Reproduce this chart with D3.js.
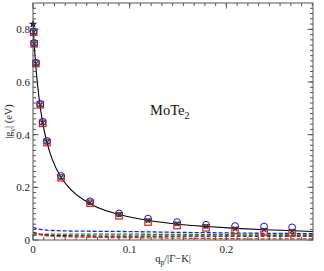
<!DOCTYPE html>
<html>
<head>
<meta charset="utf-8">
<script src="https://cdn.jsdelivr.net/npm/d3@7"></script>
<style>
  body { margin: 0; background: #fff; }
  svg { display: block; font-family: "Liberation Serif", "DejaVu Serif", serif; }
</style>
</head>
<body>
<div id="chart"></div>
<script>
// Solid black fit curve
const curveQ = [0, 0.001, 0.002, 0.003, 0.005, 0.0075, 0.01, 0.0145, 0.02, 0.029, 0.04, 0.059, 0.075, 0.089, 0.12, 0.15, 0.18, 0.21, 0.24, 0.27, 0.29];
const curveG = [0.82, 0.757, 0.705, 0.656, 0.58, 0.505, 0.446, 0.37, 0.305, 0.238, 0.188, 0.138, 0.112, 0.097, 0.074, 0.060, 0.051, 0.044, 0.039, 0.035, 0.032];

// Dashed background lines
const dashQ = [0, 0.005, 0.01, 0.02, 0.04, 0.07, 0.1, 0.15, 0.2, 0.25, 0.29];
const dashBlue  = [0.048, 0.042, 0.039, 0.036, 0.034, 0.033, 0.032, 0.029, 0.027, 0.025, 0.024];
const dashGreen = [0.017, 0.020, 0.021, 0.022, 0.022, 0.022, 0.022, 0.021, 0.020, 0.019, 0.019];
const dashBlack = [0.030, 0.024, 0.020, 0.017, 0.016, 0.015, 0.015, 0.015, 0.015, 0.015, 0.015];
const dashRed   = [0.027, 0.022, 0.018, 0.015, 0.012, 0.010, 0.009, 0.007, 0.005, 0.004, 0.004];

// Markers
const markQ = [0.0007, 0.0012, 0.003, 0.0075, 0.010, 0.0145, 0.029, 0.059, 0.089, 0.119, 0.149, 0.179, 0.209, 0.239, 0.268];
const redSq    = [0.789, 0.745, 0.670, 0.513, 0.443, 0.370, 0.236, 0.140, 0.092, 0.068, 0.055, 0.046, 0.036, 0.031, 0.027];
const greenX   = [0.789, 0.745, 0.670, 0.513, 0.445, 0.372, 0.238, 0.142, 0.096, 0.074, 0.061, 0.052, 0.042, 0.038, 0.034];
const blueCirc = [0.792, 0.748, 0.673, 0.517, 0.449, 0.376, 0.243, 0.147, 0.101, 0.081, 0.068, 0.058, 0.053, 0.051, 0.048];
const starQ = [0];
const starG = [0.82];

const xTicks = [0, 0.1, 0.2];
const yTicks = [0, 0.2, 0.4, 0.6, 0.8];

const W = 324, H = 271;
const margin = {top: 3, right: 11, bottom: 31, left: 33};
const width = W - margin.left - margin.right;
const height = H - margin.top - margin.bottom;

const svg = d3.select("#chart").append("svg")
    .attr("width", W).attr("height", H);
const g = svg.append("g").attr("transform", `translate(${margin.left},${margin.top})`);

const x = d3.scaleLinear().domain([0, 0.2896]).range([0, width]);
const y = d3.scaleLinear().domain([0, 0.9]).range([height, 0]);

// minor tick values
const xMinor = d3.range(0, 0.29, 0.1 / 9).filter(v => v > 0.0001 && v < 0.2896);
const yMinor = d3.range(0, 0.9, 0.02).filter(v => v > 0.0001 && v < 0.8999);

svg.append("defs").append("clipPath").attr("id", "clip").append("rect")
    .attr("width", width).attr("height", height);

// Dashed lines
const line = d3.line().x(d => x(d[0])).y(d => y(d[1])).curve(d3.curveMonotoneX);
const dashed = [
  {vals: dashBlue, color: "#1a1aff"},
  {vals: dashGreen, color: "#109010"},
  {vals: dashBlack, color: "#111"},
  {vals: dashRed, color: "#ff1a1a"}
];
const plot = g.append("g").attr("clip-path", "url(#clip)");
dashed.forEach(s => {
  plot.append("path")
    .datum(dashQ.map((q, i) => [q, s.vals[i]]))
    .attr("d", line)
    .attr("fill", "none")
    .attr("stroke", s.color)
    .attr("stroke-width", 1.3)
    .attr("stroke-dasharray", "4,2");
});

// Solid curve
plot.append("path")
  .datum(curveQ.map((q, i) => [q, curveG[i]]))
  .attr("d", line)
  .attr("fill", "none")
  .attr("stroke", "#000")
  .attr("stroke-width", 1.1);

// Markers
const mg = g.append("g");
mg.selectAll(".sq").data(markQ.map((q, i) => [q, redSq[i]]))
  .enter().append("rect")
  .attr("x", d => x(d[0]) - 3.2).attr("y", d => y(d[1]) - 3.2)
  .attr("width", 6.4).attr("height", 6.4)
  .attr("fill", "none").attr("stroke", "#f11").attr("stroke-width", 1.2);

mg.selectAll(".circ").data(markQ.map((q, i) => [q, blueCirc[i]]))
  .enter().append("circle")
  .attr("cx", d => x(d[0])).attr("cy", d => y(d[1]))
  .attr("r", 3.4)
  .attr("fill", "none").attr("stroke", "#11f").attr("stroke-width", 1);

mg.selectAll(".xm").data(markQ.map((q, i) => [q, greenX[i]]))
  .enter().append("path")
  .attr("transform", d => `translate(${x(d[0])},${y(d[1])}) rotate(45)`)
  .attr("d", "M-3,0H3M0,-3V3")
  .attr("fill", "none").attr("stroke", "#075a07").attr("stroke-width", 1.4);

mg.selectAll(".star").data(starQ.map((q, i) => [q, starG[i]]))
  .enter().append("path")
  .attr("transform", d => `translate(${x(d[0])},${y(d[1])})`)
  .attr("d", d3.symbol(d3.symbolStar, 22)())
  .attr("fill", "#000");

// Frame
g.append("rect").attr("width", width).attr("height", height)
  .attr("fill", "none").attr("stroke", "#555").attr("stroke-width", 1);

// Ticks on all four sides, pointing inwards
const tk = g.append("g").attr("stroke", "#555").attr("stroke-width", 1);
function xTick(v, len) {
  tk.append("line").attr("x1", x(v)).attr("x2", x(v)).attr("y1", height).attr("y2", height - len);
  tk.append("line").attr("x1", x(v)).attr("x2", x(v)).attr("y1", 0).attr("y2", len);
}
function yTick(v, len) {
  tk.append("line").attr("y1", y(v)).attr("y2", y(v)).attr("x1", 0).attr("x2", len);
  tk.append("line").attr("y1", y(v)).attr("y2", y(v)).attr("x1", width).attr("x2", width - len);
}
xMinor.forEach(v => xTick(v, 3));
xTicks.forEach(v => xTick(v, 5.5));
yMinor.forEach(v => yTick(v, 3));
yTicks.forEach(v => yTick(v, 5.5));

// Tick labels
g.selectAll(".xl").data(xTicks).enter().append("text")
  .attr("x", d => x(d)).attr("y", height + 13)
  .attr("text-anchor", "middle").attr("font-size", 11).attr("fill", "#222")
  .text(d => d === 0 ? "0" : d.toString());
g.selectAll(".yl").data(yTicks).enter().append("text")
  .attr("x", -3).attr("y", d => y(d) + 4)
  .attr("text-anchor", "end").attr("font-size", 11).attr("fill", "#222")
  .text(d => d === 0 ? "0" : d.toFixed(1));

// Axis titles
const xt = svg.append("text")
  .attr("x", margin.left + width / 2).attr("y", 262)
  .attr("text-anchor", "middle").attr("font-size", 10.5).attr("fill", "#222");
xt.append("tspan").text("q");
xt.append("tspan").attr("font-size", 7.5).attr("dy", 2.5).text("p");
xt.append("tspan").attr("dy", -2.5).text("/|Γ−K|");

const yt = svg.append("text")
  .attr("transform", `translate(12,${margin.top + height / 2}) rotate(-90)`)
  .attr("text-anchor", "middle").attr("font-size", 10.5).attr("fill", "#222");
yt.append("tspan").text("|g");
yt.append("tspan").attr("font-size", 7.5).attr("dy", 2.5).text("ν");
yt.append("tspan").attr("dy", -2.5).text("| (eV)");

// Material label
const ml = g.append("text")
  .attr("x", x(0.121)).attr("y", y(0.475))
  .attr("font-size", 14.5).attr("fill", "#111");
ml.append("tspan").text("MoTe");
ml.append("tspan").attr("font-size", 10).attr("dy", 4).text("2");
</script>
</body>
</html>
